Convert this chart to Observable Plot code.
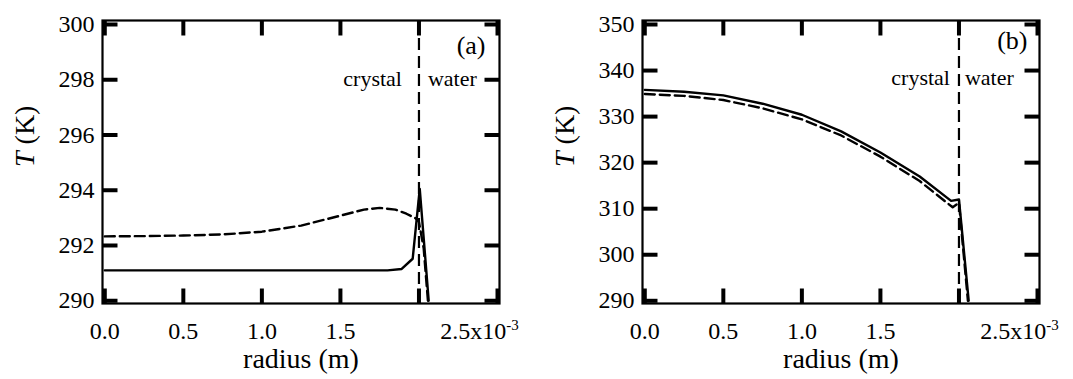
<!DOCTYPE html>
<html><head><meta charset="utf-8">
<script src="https://cdn.jsdelivr.net/npm/d3@7"></script>
<script src="https://cdn.jsdelivr.net/npm/@observablehq/plot@0.6"></script>
<style>
body{margin:0;background:#fff;}
#wrap{display:flex;width:1073px;height:379px;overflow:hidden;}
#wrap svg, #wrap svg text{font-family:"Liberation Serif","Times New Roman",serif !important;}
</style></head><body><div id="wrap"></div>
<script>
// x ticks (radius in m) and their labels
const xTicks = [0, 0.5e-3, 1.0e-3, 1.5e-3, 2.0e-3, 2.5e-3];
const xTickLabels = ["0.0", "0.5", "1.0", "1.5", "", "2.5x10"];
const xExponent = "-3";
const interfaceRadius = 2.0e-3;
const xLabel = "radius (m)";
const yLabel = "T (K)";

// panel (a)
const yTicksA = [290, 292, 294, 296, 298, 300];
const radiusSolidA = [0, 0.25, 0.5, 1.0, 1.5, 1.80, 1.89, 1.96, 2.005, 2.062];          // x1e-3 m
const tempSolidA   = [291.1, 291.1, 291.1, 291.1, 291.1, 291.1, 291.15, 291.52, 294.05, 290.0];
const radiusDashA  = [0, 0.25, 0.5, 0.75, 1.0, 1.25, 1.5, 1.65, 1.75, 1.85, 1.92, 1.98, 2.0, 2.03, 2.057];
const tempDashA    = [292.33, 292.34, 292.36, 292.4, 292.5, 292.72, 293.08, 293.3, 293.36, 293.3, 293.15, 292.98, 292.85, 291.9, 290.0];

// panel (b)
const yTicksB = [290, 300, 310, 320, 330, 340, 350];
const radiusSolidB = [0, 0.25, 0.5, 0.75, 1.0, 1.25, 1.5, 1.75, 1.95, 2.0, 2.062];
const tempSolidB   = [335.8, 335.4, 334.6, 332.8, 330.4, 326.8, 322.2, 317.0, 311.7, 312.0, 290.0];
const radiusDashB  = [0, 0.25, 0.5, 0.75, 1.0, 1.25, 1.5, 1.75, 1.96, 2.0, 2.057];
const tempDashB    = [334.9, 334.5, 333.6, 331.8, 329.4, 325.9, 321.3, 316.0, 310.3, 311.3, 290.0];

const toRows = (rs, ts) => rs.map((r, i) => ({r: r * 1e-3, T: ts[i]}));

const H = 379, MT = 20, MB = 76, ML = 102, TICK = 15;
const xDomain = [-0.0146e-3, 2.5127e-3];

function panel({width, marginRight, yDomain, yTicks, solid, dashed, tag, tagDx, tagDy, crystalDx, waterDx, annDy}) {
  const plotH = H - MT - MB;
  const plotW = width - ML - marginRight;
  // inward tick length (px) expressed in scale units
  const ty = TICK * (yDomain[1] - yDomain[0]) / plotH;
  const tx = TICK * (xDomain[1] - xDomain[0]) / plotW;
  const fmt = d => { const i = xTicks.findIndex(t => Math.abs(t - d) < 1e-9); return i < 0 ? "" : xTickLabels[i]; };
  const svg = Plot.plot({
    width, height: H, marginTop: MT, marginBottom: MB, marginLeft: ML, marginRight,
    style: {fontFamily: "Liberation Serif, serif", fontSize: "24px", color: "black", background: "white", overflow: "visible"},
    x: {domain: xDomain, label: null},
    y: {domain: yDomain, label: null},
    marks: [
      Plot.axisX({ticks: xTicks, tickFormat: fmt, tickSize: 0, tickPadding: 18, label: null, fontSize: 24}),
      Plot.axisY({ticks: yTicks, tickSize: 0, tickPadding: 8, label: null, fontSize: 24}),
      // inward ticks on all four sides
      Plot.link(xTicks, {x1: d => d, x2: d => d, y1: () => yDomain[0], y2: () => yDomain[0] + ty, stroke: "black", strokeWidth: 4}),
      Plot.link(xTicks, {x1: d => d, x2: d => d, y1: () => yDomain[1], y2: () => yDomain[1] - ty, stroke: "black", strokeWidth: 4}),
      Plot.link(yTicks, {y1: d => d, y2: d => d, x1: () => xDomain[0], x2: () => xDomain[0] + tx, stroke: "black", strokeWidth: 4}),
      Plot.link(yTicks, {y1: d => d, y2: d => d, x1: () => xDomain[1], x2: () => xDomain[1] - tx, stroke: "black", strokeWidth: 4}),
      Plot.ruleX([interfaceRadius], {strokeWidth: 2.2, strokeDasharray: "12,6"}),
      Plot.line(dashed, {x: "r", y: "T", strokeWidth: 2.4, strokeDasharray: "10,5", clip: true}),
      Plot.line(solid, {x: "r", y: "T", strokeWidth: 2.4, clip: true}),
      Plot.frame({strokeWidth: 2.2}),
      Plot.text(["crystal"], {text: d => d, x: () => interfaceRadius, frameAnchor: "top", dy: annDy, dx: crystalDx, textAnchor: "end", lineAnchor: "bottom", fontSize: 22}),
      Plot.text(["water"], {text: d => d, x: () => interfaceRadius, frameAnchor: "top", dy: annDy, dx: waterDx, textAnchor: "start", lineAnchor: "bottom", fontSize: 22}),
      Plot.text([tag], {text: d => d, frameAnchor: "top-right", dx: tagDx, dy: tagDy, textAnchor: "end", lineAnchor: "bottom", fontSize: 26}),
      Plot.text([xLabel], {text: d => d, frameAnchor: "bottom", dy: 64, lineAnchor: "bottom", fontSize: 28}),
      Plot.text([yLabel], {text: d => d, frameAnchor: "left", dx: -77, dy: 5, rotate: -90, fontSize: 28})
    ]
  });
  // superscript exponent and italic T
  svg.querySelectorAll("text").forEach(t => {
    if (t.textContent === "2.5x10") {
      const ts = document.createElementNS("http://www.w3.org/2000/svg", "tspan");
      ts.setAttribute("dy", "-0.55em");
      ts.setAttribute("font-size", "15");
      ts.textContent = xExponent;
      t.appendChild(ts);
      t.setAttribute("dx", "-18");
    }
    if (t.textContent === yLabel) {
      t.textContent = "";
      const a = document.createElementNS("http://www.w3.org/2000/svg", "tspan");
      a.setAttribute("font-style", "italic");
      a.textContent = "T";
      const b = document.createElementNS("http://www.w3.org/2000/svg", "tspan");
      b.textContent = " (K)";
      t.appendChild(a); t.appendChild(b);
    }
  });
  return svg;
}

const wrap = document.getElementById("wrap");
wrap.appendChild(panel({width: 540, marginRight: 41, yDomain: [289.9, 300.145], yTicks: yTicksA,
  solid: toRows(radiusSolidA, tempSolidA), dashed: toRows(radiusDashA, tempDashA),
  tag: "(a)", tagDx: -14, tagDy: 33, crystalDx: -17, waterDx: 9, annDy: 65}));
wrap.appendChild(panel({width: 533, marginRight: 34, yDomain: [289.41, 350.87], yTicks: yTicksB,
  solid: toRows(radiusSolidB, tempSolidB), dashed: toRows(radiusDashB, tempDashB),
  tag: "(b)", tagDx: -12, tagDy: 28, crystalDx: -9, waterDx: 6, annDy: 64}));
</script></body></html>
